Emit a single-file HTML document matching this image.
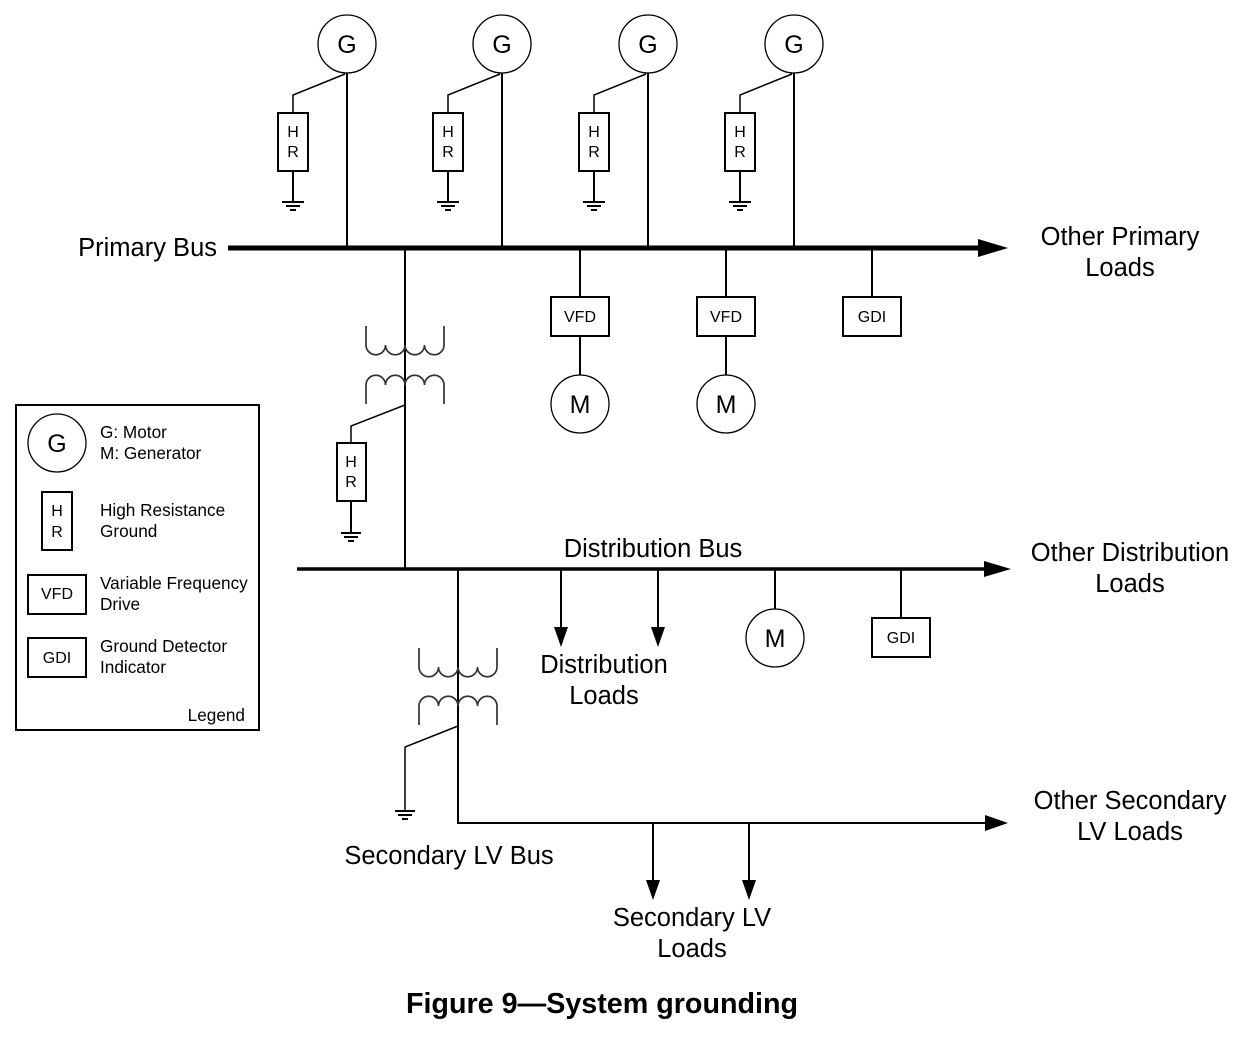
<!DOCTYPE html>
<html><head><meta charset="utf-8"><style>
html,body{margin:0;padding:0;background:#fff;}
svg{display:block;font-family:"Liberation Sans",Arial,sans-serif;}
</style></head><body>
<svg width="1260" height="1037" viewBox="0 0 1260 1037" xmlns="http://www.w3.org/2000/svg">
<g fill="none" stroke="#000" stroke-width="2">
<circle cx="347" cy="44" r="29" stroke-width="1.3"/>
<circle cx="502" cy="44" r="29" stroke-width="1.3"/>
<circle cx="648" cy="44" r="29" stroke-width="1.3"/>
<circle cx="794" cy="44" r="29" stroke-width="1.3"/>
<path d="M347 73V248 M502 73V248 M648 73V248 M794 73V248"/>
<path d="M345 74L293 95V113 M500 74L448 95V113 M646 74L594 95V113 M792 74L740 95V113" stroke-width="1.5"/>
<rect x="278" y="113" width="30" height="58"/>
<rect x="433" y="113" width="30" height="58"/>
<rect x="579" y="113" width="30" height="58"/>
<rect x="725" y="113" width="30" height="58"/>
<path d="M293 171V201 M448 171V201 M594 171V201 M740 171V201"/>
<path d="M282 202h22M286 206h14M290 210h6 M437 202h22M441 206h14M445 210h6 M583 202h22M587 206h14M591 210h6 M729 202h22M733 206h14M737 210h6"/>
<path d="M228 248H982" stroke-width="5"/>
<path d="M580 248V297 M726 248V297 M872 248V297 M580 336V375 M726 336V375"/>
<rect x="551" y="297" width="58" height="39"/>
<rect x="697" y="297" width="58" height="39"/>
<rect x="843" y="297" width="58" height="39"/>
<circle cx="580" cy="404" r="29" stroke-width="1.3"/>
<circle cx="726" cy="404" r="29" stroke-width="1.3"/>
<path d="M405 248V569"/>
<path d="M366 326V345a9.75 9.75 0 0 0 19.5 0a9.75 9.75 0 0 0 19.5 0a9.75 9.75 0 0 0 19.5 0a9.75 9.75 0 0 0 19.5 0V326" stroke="#333" stroke-width="1.7"/>
<path d="M366 404V385a9.75 9.75 0 0 1 19.5 0a9.75 9.75 0 0 1 19.5 0a9.75 9.75 0 0 1 19.5 0a9.75 9.75 0 0 1 19.5 0V404" stroke="#333" stroke-width="1.7"/>
<path d="M405 405L351 426V443" stroke-width="1.5"/>
<rect x="337" y="443" width="29" height="58"/>
<path d="M351 501V532 M341 533h20M344 537h14M348 541h6"/>
<path d="M297 569H986" stroke-width="3.5"/>
<path d="M561 569V628 M658 569V628 M775 569V609 M901 569V618"/>
<circle cx="775" cy="638" r="29" stroke-width="1.3"/>
<rect x="872" y="618" width="58" height="39"/>
<path d="M458 569V823H985"/>
<path d="M419 648V667a9.75 9.75 0 0 0 19.5 0a9.75 9.75 0 0 0 19.5 0a9.75 9.75 0 0 0 19.5 0a9.75 9.75 0 0 0 19.5 0V648" stroke="#333" stroke-width="1.7"/>
<path d="M419 725V706a9.75 9.75 0 0 1 19.5 0a9.75 9.75 0 0 1 19.5 0a9.75 9.75 0 0 1 19.5 0a9.75 9.75 0 0 1 19.5 0V725" stroke="#333" stroke-width="1.7"/>
<path d="M458 726L405 747V810" stroke-width="1.5"/>
<path d="M395 811h20M398 815h14M402 819h6"/>
<path d="M653 823V882 M749 823V882"/>
<rect x="16" y="405" width="243" height="325"/>
<circle cx="57" cy="443" r="29" stroke-width="1.3"/>
<rect x="42" y="492" width="30" height="58"/>
<rect x="28" y="575" width="58" height="39"/>
<rect x="28" y="638" width="58" height="39"/>
</g>
<g fill="#000">
<polygon points="978,239 1008,248 978,257"/>
<polygon points="984,561 1011,569 984,577"/>
<polygon points="985,815 1008,823 985,831"/>
<polygon points="554,627 568,627 561,647"/>
<polygon points="651,627 665,627 658,647"/>
<polygon points="646,880 660,880 653,900"/>
<polygon points="742,880 756,880 749,900"/>
</g>
<g fill="#000" font-size="25" text-anchor="middle">
<text x="347" y="53">G</text><text x="502" y="53">G</text><text x="648" y="53">G</text><text x="794" y="53">G</text>
<text x="580" y="413">M</text><text x="726" y="413">M</text><text x="775" y="647">M</text>
<text x="57" y="452">G</text>
</g>
<g fill="#000" font-size="16" text-anchor="middle">
<text x="293" y="137">H</text><text x="293" y="157">R</text>
<text x="448" y="137">H</text><text x="448" y="157">R</text>
<text x="594" y="137">H</text><text x="594" y="157">R</text>
<text x="740" y="137">H</text><text x="740" y="157">R</text>
<text x="351" y="467">H</text><text x="351" y="487">R</text>
<text x="57" y="516">H</text><text x="57" y="537">R</text>
<text x="580" y="322">VFD</text><text x="726" y="322">VFD</text><text x="872" y="322">GDI</text>
<text x="901" y="643">GDI</text>
<text x="57" y="599">VFD</text><text x="57" y="663">GDI</text>
</g>
<g fill="#000" font-size="17.2">
<text x="100" y="438">G: Motor</text><text x="100" y="459">M: Generator</text>
<text x="100" y="516">High Resistance</text><text x="100" y="537">Ground</text>
<text x="100" y="589">Variable Frequency</text><text x="100" y="610">Drive</text>
<text x="100" y="652">Ground Detector</text><text x="100" y="673">Indicator</text>
<text x="245" y="721" text-anchor="end">Legend</text>
</g>
<g fill="#000" font-size="25.5" text-anchor="middle">
<text x="217" y="256" text-anchor="end">Primary Bus</text>
<text x="1120" y="245">Other Primary</text><text x="1120" y="276">Loads</text>
<text x="653" y="557">Distribution Bus</text>
<text x="1130" y="561">Other Distribution</text><text x="1130" y="592">Loads</text>
<text x="604" y="673">Distribution</text><text x="604" y="704">Loads</text>
<text x="1130" y="809">Other Secondary</text><text x="1130" y="840">LV Loads</text>
<text x="449" y="864">Secondary LV Bus</text>
<text x="692" y="926">Secondary LV</text><text x="692" y="957">Loads</text>
<text x="602" y="1013" font-weight="bold" font-size="28.7">Figure 9—System grounding</text>
</g>
</svg>
</body></html>
